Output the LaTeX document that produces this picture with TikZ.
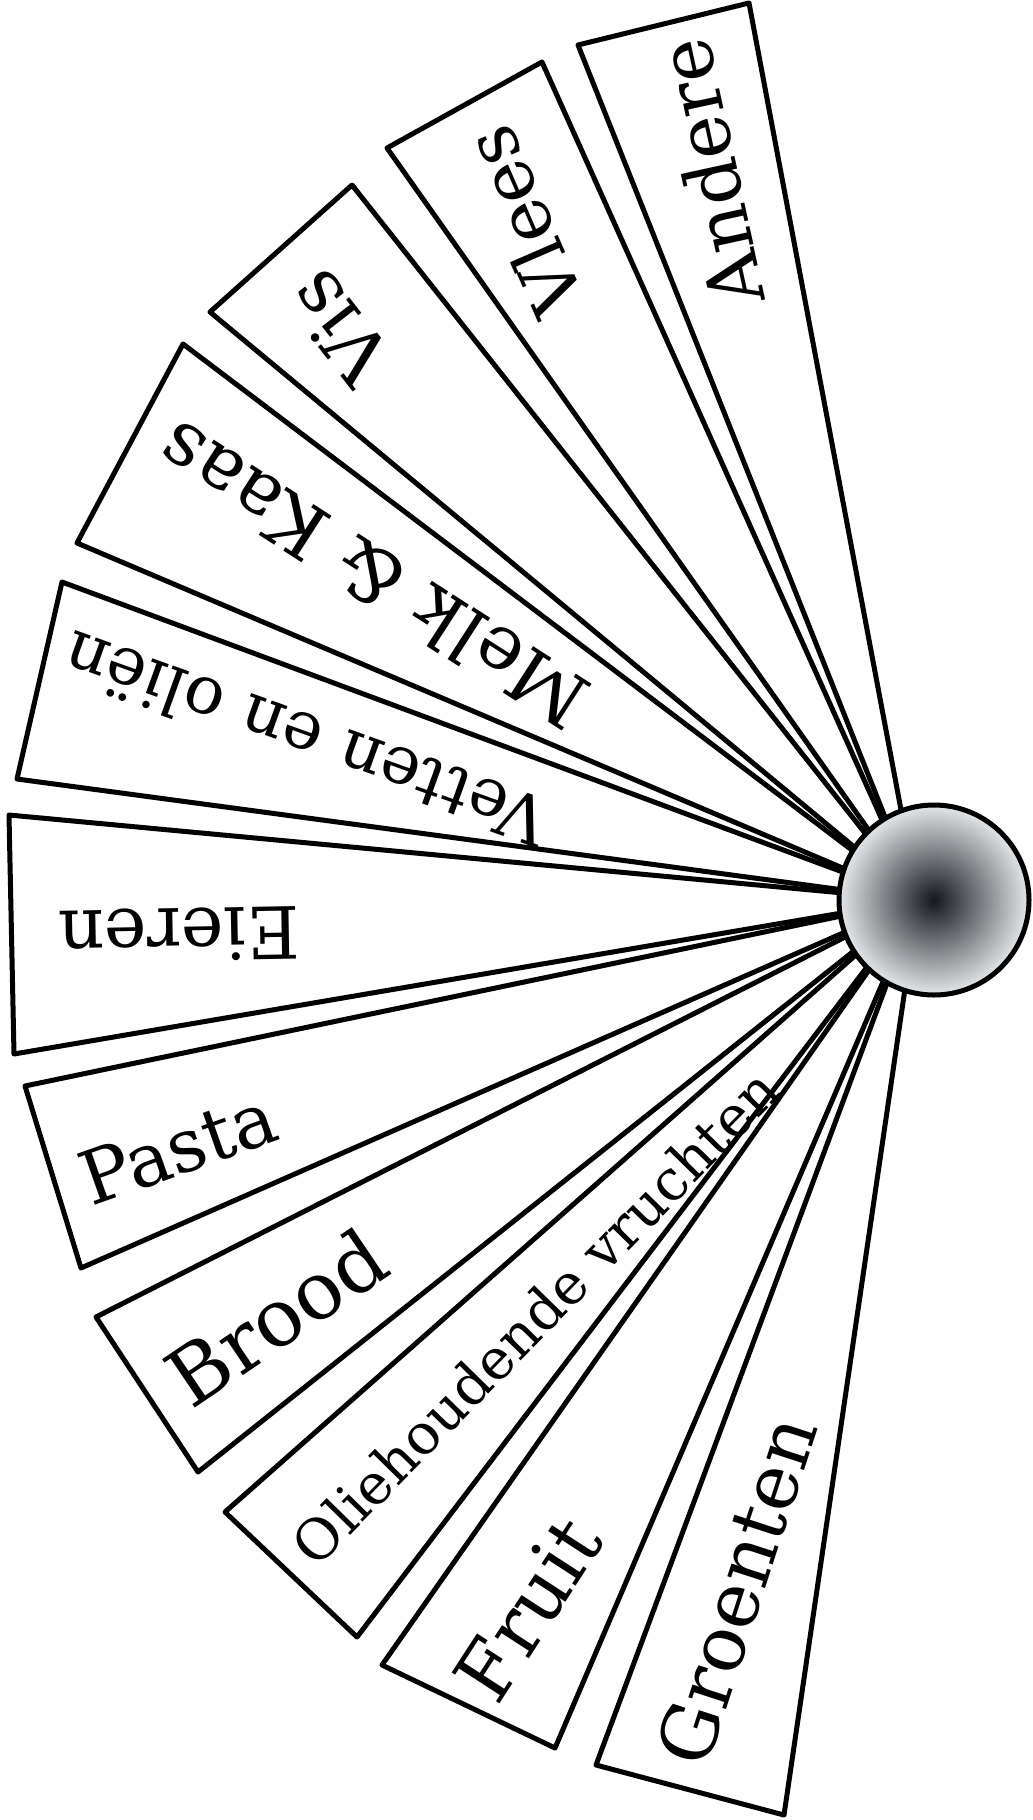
\documentclass[tikz,border=0pt]{standalone}
\usepackage{fontspec}
\setmainfont{DejaVu Serif}
\definecolor{hubdark}{RGB}{20,23,27}
\definecolor{hublight}{RGB}{228,231,234}
\pgfdeclareradialshading{hubshade}{\pgfpoint{0bp}{0bp}}{color(0bp)=(hubdark); color(25bp)=(hublight); color(50bp)=(hublight)}
\begin{document}
\begin{tikzpicture}[x=0.5pt,y=-0.5pt,
  blade/.style={draw=black,fill=white,line width=2.5pt,line join=round},
  lbl/.style={inner sep=0pt,font=\fontsize{#1}{#1}\selectfont},
]
\fill[white] (0,0) rectangle (1033,1820);
\useasboundingbox (0,0) rectangle (1033,1820);
\coordinate (apex) at (918,900);
% outer corners of the blades
\coordinate (a1) at (578,45);  \coordinate (a2) at (749,3);
\coordinate (b1) at (387,148); \coordinate (b2) at (542,62);
\coordinate (c1) at (210,312); \coordinate (c2) at (352,185);
\coordinate (d1) at (77,543);  \coordinate (d2) at (183,344);
\coordinate (e1) at (17,779);  \coordinate (e2) at (62,582);
\coordinate (f1) at (9,815);   \coordinate (f2) at (14,1054);
\coordinate (g1) at (25,1086); \coordinate (g2) at (81,1268);
\coordinate (h1) at (96,1317); \coordinate (h2) at (198,1472);
\coordinate (i1) at (225,1512);\coordinate (i2) at (357,1637);
\coordinate (j1) at (382,1665);\coordinate (j2) at (555,1748);
\coordinate (k1) at (596,1765);\coordinate (k2) at (784,1815);
\foreach \p in {a,b,c,d,e,f,g,h,i,j,k}
  \draw[blade] (apex) -- (\p1) -- (\p2) -- cycle;
% labels
\node[lbl=37,rotate=102.3] (tAndere) at (710,173) {Andere};
\node[lbl=36,rotate=113.5] (tVlees) at (523,222) {Vlees};
\node[lbl=38,rotate=127.8] (tVis) at (339,328) {Vis};
\node[lbl=38,rotate=147.2] (tMelk) at (372,576) {Melk \& Kaas};
\node[lbl=33.5,rotate=160.2] (tVetten) at (305,740) {Vetten en oliën};
\node[lbl=36,rotate=181] (tEieren) at (179,935) {Eieren};
\node[lbl=37,rotate=19.4] (tPasta) at (178,1148) {Pasta};
\node[lbl=40,rotate=34] (tBrood) at (276,1317) {Brood};
\node[lbl=28,rotate=45.6] (tOlie) at (535,1317) {Oliehoudende vruchten};
\node[lbl=39,rotate=57] (tFruit) at (528,1609) {Fruit};
\node[lbl=38,rotate=72] (tGroenten) at (736,1590) {Groenten};
% hub
\node[circle,draw=black,line width=2.5pt,shading=hubshade,minimum size=95pt,inner sep=0pt] (hub) at (934,900) {};
\end{tikzpicture}
\end{document}
